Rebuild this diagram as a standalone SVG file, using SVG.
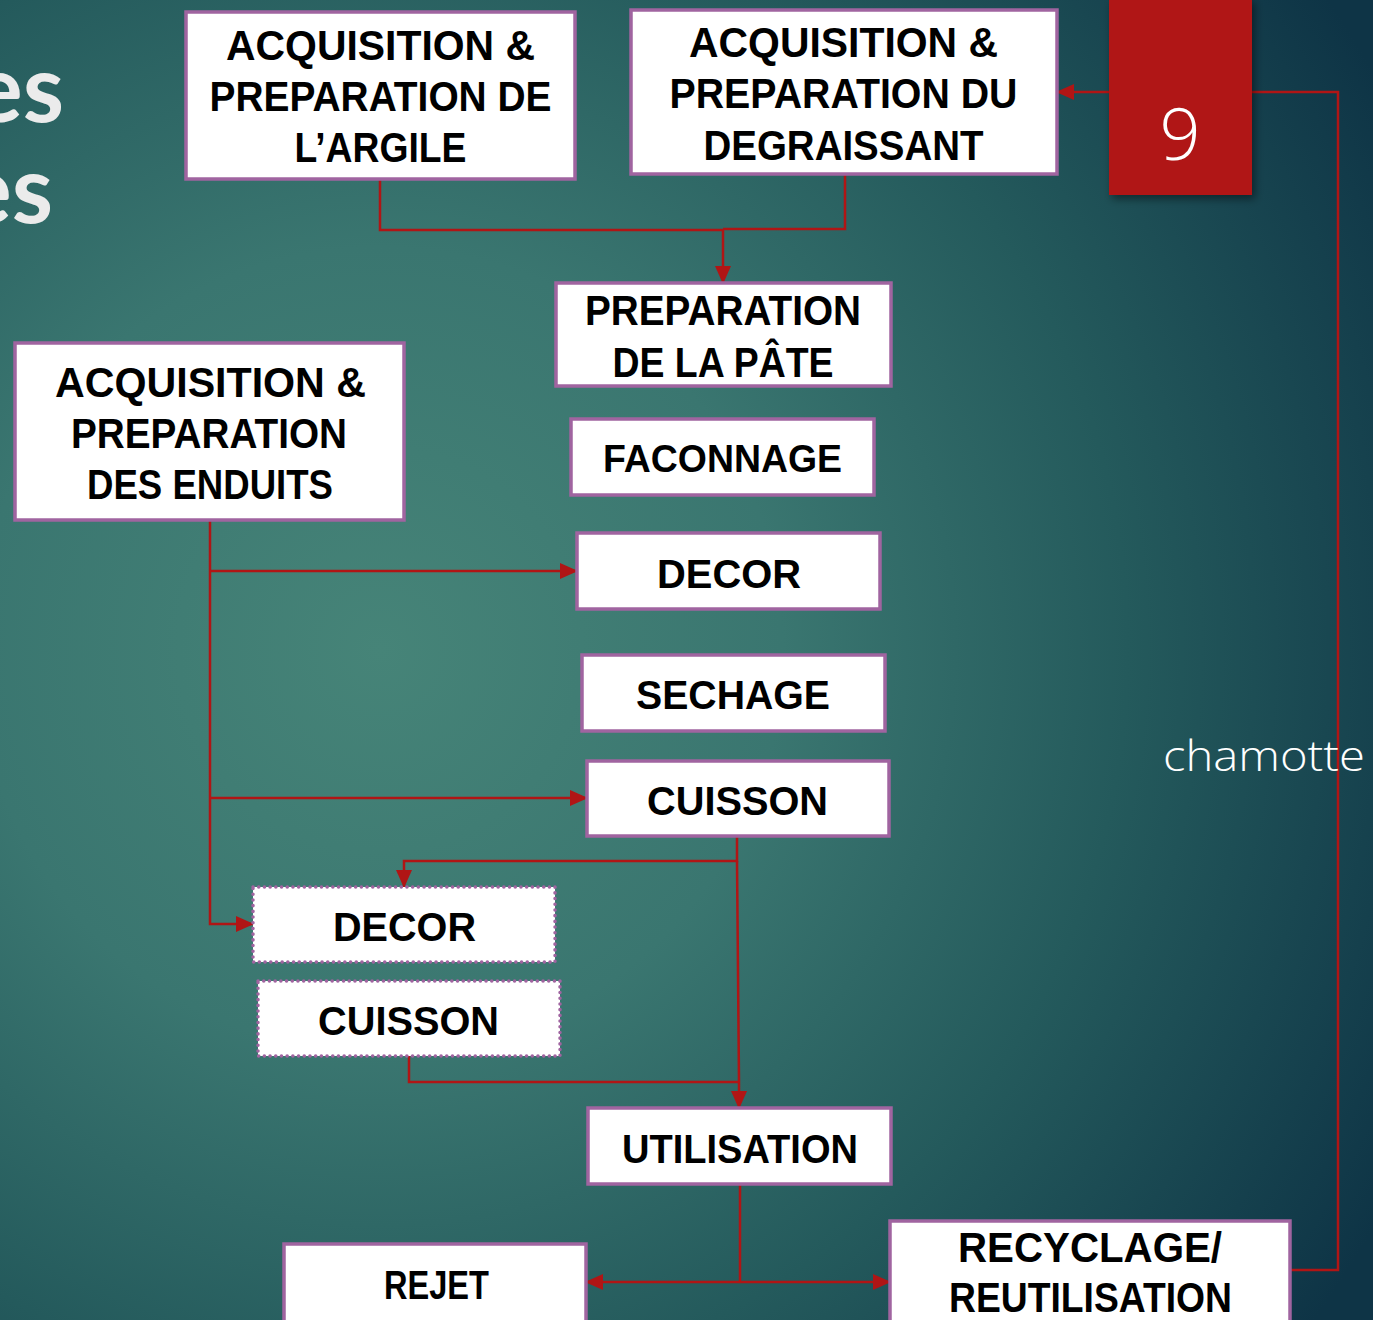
<svg xmlns="http://www.w3.org/2000/svg" width="1373" height="1320" viewBox="0 0 1373 1320">
<defs>
<radialGradient id="bg" gradientUnits="userSpaceOnUse" cx="380" cy="650" r="1150">
<stop offset="0" stop-color="#468478"/>
<stop offset="0.35" stop-color="#3a7670"/>
<stop offset="0.65" stop-color="#245a5c"/>
<stop offset="1" stop-color="#0e3446"/>
</radialGradient>
<marker id="arr" markerUnits="userSpaceOnUse" markerWidth="18" markerHeight="16" refX="17" refY="8" orient="auto">
<path d="M0,0 L18,8 L0,16 Z" fill="#b01515"/>
</marker>
<filter id="sh" x="-20%" y="-20%" width="150%" height="150%">
<feDropShadow dx="3" dy="4" stdDeviation="4" flood-color="#000" flood-opacity="0.45"/>
</filter>
<style>
.box{fill:#fff;stroke:#a064a0;stroke-width:3.5}
.dash{fill:#fff;stroke:#a064a0;stroke-width:3.5;stroke-dasharray:0.1 5.6;stroke-linecap:round}
.t{font-family:"Liberation Sans",Arial,sans-serif;font-weight:bold;fill:#000;text-anchor:middle}
.l{font-size:42px}
.s{font-size:40px}
.c{fill:none;stroke:#b01515;stroke-width:2.5}
.ca{fill:none;stroke:#b01515;stroke-width:2.5;marker-end:url(#arr)}
</style>
</defs>
<rect width="1373" height="1320" fill="url(#bg)"/>
<g id="title" font-family="Lato,'Open Sans',sans-serif" font-weight="bold" fill="#ebebeb" font-size="94" text-anchor="end">
<text x="64" y="122">es</text>
<text x="53" y="223">es</text>
</g>
<g id="connectors">
<polyline class="c" points="380,179 380,230 723,230"/>
<polyline class="c" points="845,174 845,229 723,229"/>
<polyline class="ca" points="723,229 723,283"/>
<polyline class="ca" points="210,520 210,924 253,924"/>
<polyline class="ca" points="210,571 577,571"/>
<polyline class="ca" points="210,798 587,798"/>
<polyline class="ca" points="737,836 737,861 404,861 404,887"/>
<polyline class="ca" points="737,861 739,1082 739,1108"/>
<polyline class="c" points="409,1056 409,1082 739,1082"/>
<polyline class="c" points="740,1184 740,1282"/>
<polyline class="ca" points="740,1282 586,1282"/>
<polyline class="ca" points="740,1282 890,1282"/>
<polyline class="ca" points="1290,1270 1338,1270 1338,92 1057,92"/>
</g>
<g id="n9">
<rect x="1109" y="-2" width="143" height="197" fill="#b01715" filter="url(#sh)"/>
<text x="1180" y="160" font-family="'Open Sans','Liberation Sans',sans-serif" font-weight="300" font-size="72" fill="#fff" text-anchor="middle">9</text>
</g>
<g id="argile">
<rect class="box" x="186" y="12" width="389" height="167"/>
<text class="t l" x="380.5" y="60" textLength="309" lengthAdjust="spacingAndGlyphs">ACQUISITION &amp;</text>
<text class="t l" x="380.5" y="111" textLength="342" lengthAdjust="spacingAndGlyphs">PREPARATION DE</text>
<text class="t l" x="380.5" y="162" textLength="172" lengthAdjust="spacingAndGlyphs">L’ARGILE</text>
</g>
<g id="degraissant">
<rect class="box" x="631" y="10" width="426" height="164"/>
<text class="t l" x="843.5" y="57" textLength="309" lengthAdjust="spacingAndGlyphs">ACQUISITION &amp;</text>
<text class="t l" x="843.5" y="108" textLength="348" lengthAdjust="spacingAndGlyphs">PREPARATION DU</text>
<text class="t l" x="843.5" y="160" textLength="280" lengthAdjust="spacingAndGlyphs">DEGRAISSANT</text>
</g>
<g id="pate">
<rect class="box" x="556" y="283" width="335" height="103"/>
<text class="t l" x="723" y="325" textLength="276" lengthAdjust="spacingAndGlyphs">PREPARATION</text>
<text class="t l" x="723" y="377" textLength="221" lengthAdjust="spacingAndGlyphs">DE LA PÂTE</text>
</g>
<g id="enduits">
<rect class="box" x="15" y="343" width="389" height="177"/>
<text class="t l" x="210.5" y="397" textLength="311" lengthAdjust="spacingAndGlyphs">ACQUISITION &amp;</text>
<text class="t l" x="209" y="448" textLength="276" lengthAdjust="spacingAndGlyphs">PREPARATION</text>
<text class="t l" x="210" y="499" textLength="246" lengthAdjust="spacingAndGlyphs">DES ENDUITS</text>
</g>
<g id="faconnage">
<rect class="box" x="571" y="419" width="303" height="76"/>
<text class="t" font-size="38" x="722.5" y="472" textLength="239" lengthAdjust="spacingAndGlyphs">FACONNAGE</text>
</g>
<g id="decor1">
<rect class="box" x="577" y="533" width="303" height="76"/>
<text class="t s" x="729" y="588" textLength="144" lengthAdjust="spacingAndGlyphs">DECOR</text>
</g>
<g id="sechage">
<rect class="box" x="582" y="655" width="303" height="76"/>
<text class="t s" x="733" y="709" textLength="194" lengthAdjust="spacingAndGlyphs">SECHAGE</text>
</g>
<g id="cuisson1">
<rect class="box" x="587" y="761" width="302" height="75"/>
<text class="t s" x="737.5" y="815" textLength="181" lengthAdjust="spacingAndGlyphs">CUISSON</text>
</g>
<g id="decor2">
<rect class="dash" x="253" y="887" width="302" height="75"/>
<text class="t s" x="404.5" y="941" textLength="143" lengthAdjust="spacingAndGlyphs">DECOR</text>
</g>
<g id="cuisson2">
<rect class="dash" x="258" y="981" width="302" height="75"/>
<text class="t s" x="408.5" y="1035" textLength="181" lengthAdjust="spacingAndGlyphs">CUISSON</text>
</g>
<g id="utilisation">
<rect class="box" x="588" y="1108" width="303" height="76"/>
<text class="t s" x="740" y="1163" textLength="236" lengthAdjust="spacingAndGlyphs">UTILISATION</text>
</g>
<g id="rejet">
<rect class="box" x="284" y="1244" width="302" height="80"/>
<text class="t s" x="436.5" y="1299" textLength="105" lengthAdjust="spacingAndGlyphs">REJET</text>
</g>
<g id="recyclage">
<rect class="box" x="890" y="1221" width="400" height="103"/>
<text class="t l" x="1090" y="1262" textLength="264" lengthAdjust="spacingAndGlyphs">RECYCLAGE/</text>
<text class="t l" x="1090.5" y="1312" textLength="283" lengthAdjust="spacingAndGlyphs">REUTILISATION</text>
</g>
<g id="chamotte-label">
<text x="1163" y="771" font-family="'Open Sans','Liberation Sans',sans-serif" font-weight="300" font-size="42" fill="#fff" textLength="202" lengthAdjust="spacingAndGlyphs">chamotte</text>
</g>
</svg>
